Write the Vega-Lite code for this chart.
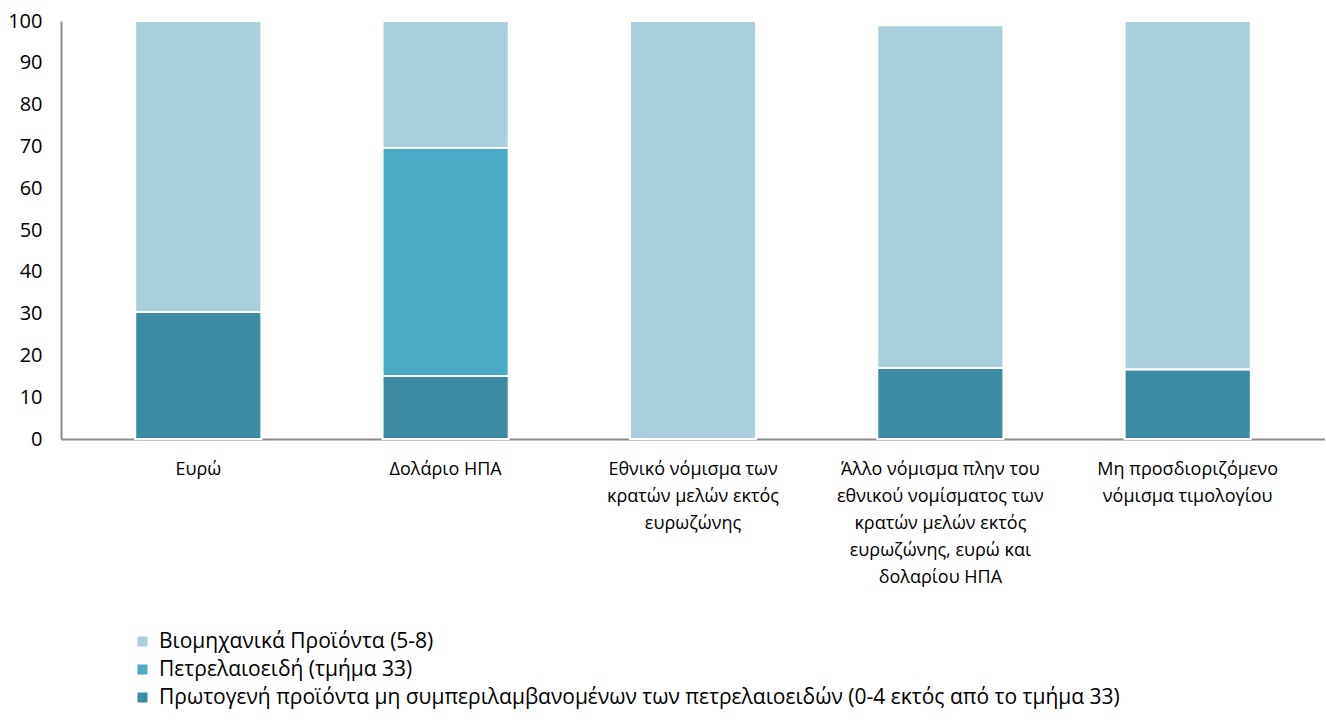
{
  "$schema": "https://vega.github.io/schema/vega-lite/v6.json",
  "width": 1264,
  "height": 418,
  "padding": {"left": 7, "top": 11, "right": 0, "bottom": 5},
  "background": "white",
  "config": {
    "view": {"stroke": null},
    "font": "Open Sans"
  },
  "data": {
    "values": [
      {"currency": "Ευρώ", "group": "Πρωτογενή προϊόντα μη συμπεριλαμβανομένων των πετρελαιοειδών (0-4 εκτός από το τμήμα 33)", "ord": 1, "value": 30.4},
      {"currency": "Ευρώ", "group": "Πετρελαιοειδή (τμήμα 33)", "ord": 2, "value": 0},
      {"currency": "Ευρώ", "group": "Βιομηχανικά Προϊόντα  (5-8)", "ord": 3, "value": 69.6},
      {"currency": "Δολάριο ΗΠΑ", "group": "Πρωτογενή προϊόντα μη συμπεριλαμβανομένων των πετρελαιοειδών (0-4 εκτός από το τμήμα 33)", "ord": 1, "value": 15.1},
      {"currency": "Δολάριο ΗΠΑ", "group": "Πετρελαιοειδή (τμήμα 33)", "ord": 2, "value": 54.5},
      {"currency": "Δολάριο ΗΠΑ", "group": "Βιομηχανικά Προϊόντα  (5-8)", "ord": 3, "value": 30.4},
      {"currency": "Εθνικό νόμισμα των|κρατών μελών εκτός|ευρωζώνης", "group": "Πρωτογενή προϊόντα μη συμπεριλαμβανομένων των πετρελαιοειδών (0-4 εκτός από το τμήμα 33)", "ord": 1, "value": 0},
      {"currency": "Εθνικό νόμισμα των|κρατών μελών εκτός|ευρωζώνης", "group": "Πετρελαιοειδή (τμήμα 33)", "ord": 2, "value": 0},
      {"currency": "Εθνικό νόμισμα των|κρατών μελών εκτός|ευρωζώνης", "group": "Βιομηχανικά Προϊόντα  (5-8)", "ord": 3, "value": 100},
      {"currency": "Άλλο νόμισμα πλην του|εθνικού νομίσματος των|κρατών μελών εκτός|ευρωζώνης, ευρώ και|δολαρίου ΗΠΑ", "group": "Πρωτογενή προϊόντα μη συμπεριλαμβανομένων των πετρελαιοειδών (0-4 εκτός από το τμήμα 33)", "ord": 1, "value": 17.0},
      {"currency": "Άλλο νόμισμα πλην του|εθνικού νομίσματος των|κρατών μελών εκτός|ευρωζώνης, ευρώ και|δολαρίου ΗΠΑ", "group": "Πετρελαιοειδή (τμήμα 33)", "ord": 2, "value": 0},
      {"currency": "Άλλο νόμισμα πλην του|εθνικού νομίσματος των|κρατών μελών εκτός|ευρωζώνης, ευρώ και|δολαρίου ΗΠΑ", "group": "Βιομηχανικά Προϊόντα  (5-8)", "ord": 3, "value": 82.0},
      {"currency": "Μη προσδιοριζόμενο|νόμισμα τιμολογίου", "group": "Πρωτογενή προϊόντα μη συμπεριλαμβανομένων των πετρελαιοειδών (0-4 εκτός από το τμήμα 33)", "ord": 1, "value": 16.7},
      {"currency": "Μη προσδιοριζόμενο|νόμισμα τιμολογίου", "group": "Πετρελαιοειδή (τμήμα 33)", "ord": 2, "value": 0},
      {"currency": "Μη προσδιοριζόμενο|νόμισμα τιμολογίου", "group": "Βιομηχανικά Προϊόντα  (5-8)", "ord": 3, "value": 83.3}
    ]
  },
  "mark": {"type": "bar", "stroke": "white", "strokeWidth": 2},
  "encoding": {
    "x": {
      "field": "currency",
      "type": "nominal",
      "sort": null,
      "title": null,
      "scale": {"paddingInner": 0.49, "paddingOuter": 0.3},
      "axis": {
        "labelAngle": 0,
        "labelExpr": "split(datum.label, '|')",
        "labelFontSize": 18,
        "labelColor": "black",
        "labelLineHeight": 27,
        "labelPadding": 21,
        "labelLimit": 0,
        "ticks": false,
        "domainColor": "#8c8c8c",
        "domainWidth": 2
      }
    },
    "y": {
      "field": "value",
      "type": "quantitative",
      "stack": "zero",
      "title": null,
      "scale": {"domain": [0, 100]},
      "axis": {
        "values": [0, 10, 20, 30, 40, 50, 60, 70, 80, 90, 100],
        "grid": false,
        "ticks": false,
        "labelFontSize": 20,
        "labelColor": "black",
        "labelPadding": 19,
        "domainColor": "#8c8c8c",
        "domainWidth": 2
      }
    },
    "color": {
      "field": "group",
      "type": "nominal",
      "scale": {
        "domain": ["Βιομηχανικά Προϊόντα  (5-8)", "Πετρελαιοειδή (τμήμα 33)", "Πρωτογενή προϊόντα μη συμπεριλαμβανομένων των πετρελαιοειδών (0-4 εκτός από το τμήμα 33)"],
        "range": ["#aacfdd", "#4babc6", "#3c8ba3"]
      },
      "legend": {
        "title": null,
        "orient": "none",
        "legendX": 71,
        "legendY": 610,
        "symbolType": "square",
        "symbolSize": 100,
        "symbolStrokeWidth": 0,
        "labelFontSize": 21,
        "labelColor": "black",
        "labelLimit": 0,
        "labelOffset": 6,
        "rowPadding": 6
      }
    },
    "order": {"field": "ord", "type": "quantitative"}
  }
}
